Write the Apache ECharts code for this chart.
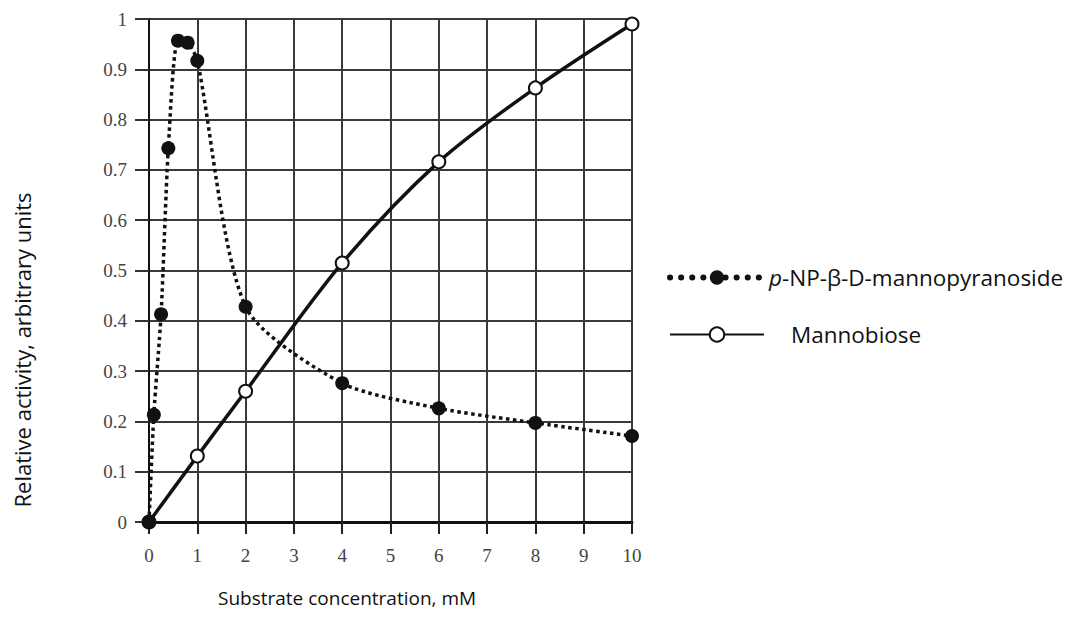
<!DOCTYPE html>
<html>
<head>
<meta charset="utf-8">
<script src="https://cdn.jsdelivr.net/npm/echarts@6/dist/echarts.min.js"></script>
<style>html,body{margin:0;padding:0;background:#fff}#c{width:1085px;height:633px}</style>
</head>
<body>
<div id="c"></div>
<script>
const xTicks = [0,1,2,3,4,5,6,7,8,9,10];
const yTicks = [0,0.1,0.2,0.3,0.4,0.5,0.6,0.7,0.8,0.9,1];
const pnpX = [0, 0.1, 0.25, 0.4, 0.6, 0.8, 1, 2, 4, 6, 8, 10];
const pnpY = [0, 0.213, 0.413, 0.743, 0.957, 0.953, 0.917, 0.428, 0.276, 0.226, 0.197, 0.171];
const manX = [0, 1, 2, 4, 6, 8, 10];
const manY = [0, 0.131, 0.26, 0.515, 0.716, 0.863, 0.99];
const pnpName = 'p-NP-β-D-mannopyranoside';
const manName = 'Mannobiose';

const chart = echarts.init(document.getElementById('c'), null, {renderer: 'svg'});
chart.setOption({
  animation: false,
  backgroundColor: '#fff',
  grid: {left: 149, right: 453, top: 19, bottom: 111, show: true, borderColor: '#111', borderWidth: 2},
  xAxis: {
    type: 'value', min: 0, max: 10, interval: 1,
    axisLine: {lineStyle: {color: '#111', width: 3}},
    axisTick: {show: true, inside: false, length: 12, lineStyle: {color: '#222', width: 2}},
    axisLabel: {margin: 24, fontFamily: 'Liberation Serif', fontSize: 19, color: '#444'},
    splitLine: {show: true, lineStyle: {color: '#3a3a3a', width: 2}}
  },
  yAxis: {
    type: 'value', min: 0, max: 1, interval: 0.1,
    axisLine: {show: true, lineStyle: {color: '#111', width: 2}},
    axisTick: {show: true, inside: false, length: 14, lineStyle: {color: '#333', width: 2}},
    axisLabel: {margin: 22, fontFamily: 'Liberation Serif', fontSize: 19, color: '#444',
      formatter: v => String(Math.round(v*10)/10)},
    splitLine: {show: true, lineStyle: {color: '#3a3a3a', width: 2}}
  },
  legend: {
    orient: 'vertical', left: 662, top: 261, itemWidth: 94, itemHeight: 18, itemGap: 34,
    data: [
      {name: pnpName, lineStyle: {width: 6, type: [0.1, 11], cap: 'round', color: '#111'}},
      {name: manName}
    ],
    formatter: n => n === pnpName ? '{i|p}{n|-NP-β-D-mannopyranoside}' : '{s|}{n|Mannobiose}',
    textStyle: {
      fontFamily: 'Open Sans', fontSize: 22, color: '#111',
      rich: {
        i: {fontFamily: 'Open Sans', fontStyle: 'italic', fontSize: 22.5, color: '#111'},
        n: {fontFamily: 'Open Sans', fontSize: 22.5, color: '#111'},
        s: {width: 22}
      }
    }
  },
  graphic: [
    {type: 'text', left: 218, top: 588, style: {text: 'Substrate concentration, mM', font: '19px "Open Sans"', fill: '#111'}},
    {type: 'text', x: 11, y: 350, rotation: Math.PI/2, style: {text: 'Relative activity, arbitrary units', font: '22px "Open Sans"', fill: '#111', align: 'center', verticalAlign: 'top'}}
  ],
  series: [
    {
      name: manName, type: 'line', smooth: 0.3, z: 3,
      data: manX.map((x,i) => [x, manY[i]]),
      symbol: 'circle', symbolSize: 13,
      itemStyle: {color: '#fff', borderColor: '#111', borderWidth: 2},
      lineStyle: {color: '#111', width: 3.5}
    },
    {
      name: pnpName, type: 'line', smooth: 0.25, z: 4,
      data: pnpX.map((x,i) => [x, pnpY[i]]),
      symbol: 'circle', symbolSize: 14,
      itemStyle: {color: '#111'},
      lineStyle: {color: '#111', width: 3.5, type: [3.5, 3.5]}
    }
  ]
});
</script>
</body>
</html>
